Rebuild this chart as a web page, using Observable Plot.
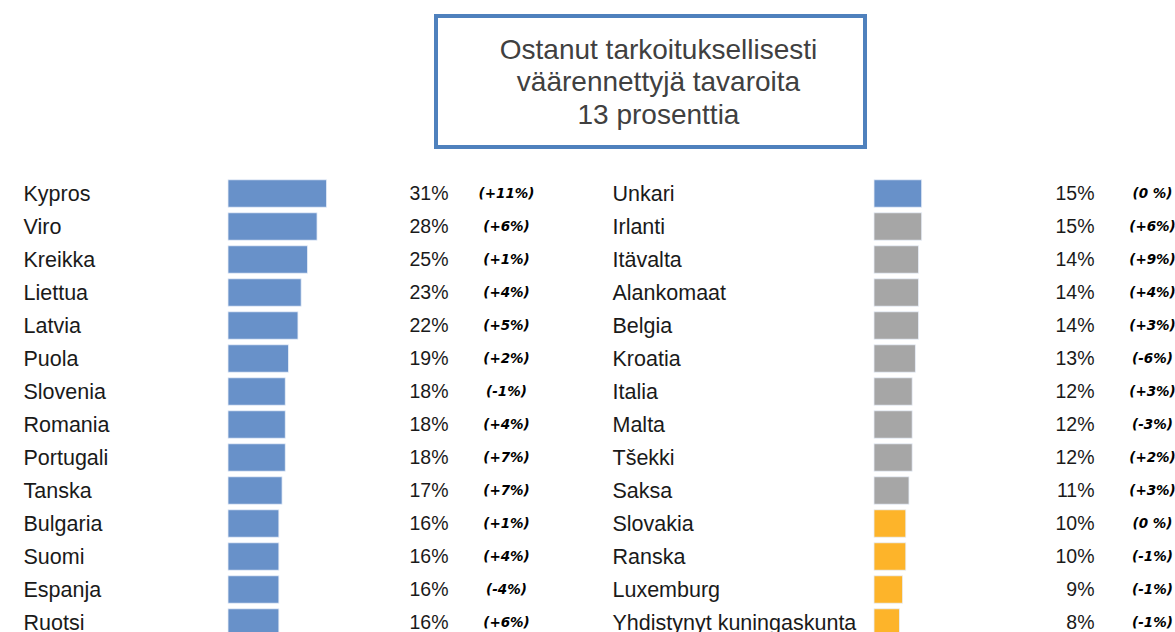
<!DOCTYPE html>
<html>
<head>
<meta charset="utf-8">
<script src="https://cdn.jsdelivr.net/npm/d3@7"></script>
<script src="https://cdn.jsdelivr.net/npm/@observablehq/plot@0.6"></script>
<style>
  html, body { margin: 0; padding: 0; background: #fff; overflow: hidden; width: 1175px; height: 632px; }
  #page { position: relative; width: 1175px; height: 632px; }
  #title {
    position: absolute; left: 434px; top: 14px; width: 409px; height: 125px;
    border: 4px solid #4f81bd; box-sizing: content-box;
    font-family: "Liberation Sans", Arial, sans-serif; font-size: 28px; line-height: 32.5px;
    color: #404040; text-align: center; padding-top: 2px; padding-left: 16px;
    display: flex; flex-direction: column; justify-content: center;
  }
  #charts { position: absolute; left: 0; top: 160px; display: flex; }
</style>
</head>
<body>
<div id="page">
  <div id="title"></div>
  <div id="charts"></div>
</div>
<script>
const titleLines = ["Ostanut tarkoituksellisesti", "väärennettyjä tavaroita", "13 prosenttia"];

const leftCountries = ["Kypros","Viro","Kreikka","Liettua","Latvia","Puola","Slovenia","Romania","Portugali","Tanska","Bulgaria","Suomi","Espanja","Ruotsi"];
const leftValues = [31,28,25,23,22,19,18,18,18,17,16,16,16,16];
const leftChanges = ["(+11%)","(+6%)","(+1%)","(+4%)","(+5%)","(+2%)","(-1%)","(+4%)","(+7%)","(+7%)","(+1%)","(+4%)","(-4%)","(+6%)"];
const leftGroups = ["above","above","above","above","above","above","above","above","above","above","above","above","above","above"];

const rightCountries = ["Unkari","Irlanti","Itävalta","Alankomaat","Belgia","Kroatia","Italia","Malta","Tšekki","Saksa","Slovakia","Ranska","Luxemburg","Yhdistynyt kuningaskunta"];
const rightValues = [15,15,14,14,14,13,12,12,12,11,10,10,9,8];
const rightChanges = ["(0 %)","(+6%)","(+9%)","(+4%)","(+3%)","(-6%)","(+3%)","(-3%)","(+2%)","(+3%)","(0 %)","(-1%)","(-1%)","(-1%)"];
const rightGroups = ["above","average","average","average","average","average","average","average","average","average","below","below","below","below"];

const groupNames = ["above","average","below"];
const groupColors = ["#6891c9","#a6a6a6","#fdb42a"];

document.getElementById("title").innerHTML = titleLines.map(t => `<div>${t}</div>`).join("");

const pxPerPct = 3.18;
const rowStep = 33;
const sans = "Liberation Sans, Arial, sans-serif";

function makeChart(countries, values, changes, groups, width, marginLeft, labelX) {
  const data = countries.map((c, i) => ({country: c, value: values[i], change: changes[i], group: groups[i]}));
  const marginTop = 17;
  const height = marginTop + rowStep * countries.length;
  const plotW = width - marginLeft;
  return Plot.plot({
    width, height,
    marginLeft, marginRight: 0, marginTop, marginBottom: 0,
    style: {fontFamily: sans, background: "#fff"},
    x: {domain: [0, plotW / pxPerPct], axis: null},
    y: {domain: countries, axis: null, paddingInner: 0.17, paddingOuter: 0.085, round: false},
    color: {domain: groupNames, range: groupColors},
    marks: [
      Plot.barX(data, {x: "value", y: "country", fill: "group", stroke: "#e8eef8", strokeWidth: 0.8}),
      Plot.text(data, {y: "country", text: "country", frameAnchor: "left", textAnchor: "start",
        dx: labelX - marginLeft, fontSize: 21.5, fill: "#1a1a1a", fontFamily: sans}),
      Plot.text(data, {y: "country", text: d => d.value + "%", frameAnchor: "left", textAnchor: "end",
        dx: 220, fontSize: 19.5, fill: "#1a1a1a", fontFamily: sans}),
      Plot.text(data, {y: "country", text: "change", frameAnchor: "left", textAnchor: "middle",
        dx: 278, fontSize: 13.5, fontWeight: "bold", fontStyle: "italic", fill: "#000",
        fontFamily: "DejaVu Sans, Verdana, sans-serif"})
    ]
  });
}

const charts = document.getElementById("charts");
charts.appendChild(makeChart(leftCountries, leftValues, leftChanges, leftGroups, 587, 228, 23));
charts.appendChild(makeChart(rightCountries, rightValues, rightChanges, rightGroups, 588, 287, 25));
</script>
</body>
</html>
